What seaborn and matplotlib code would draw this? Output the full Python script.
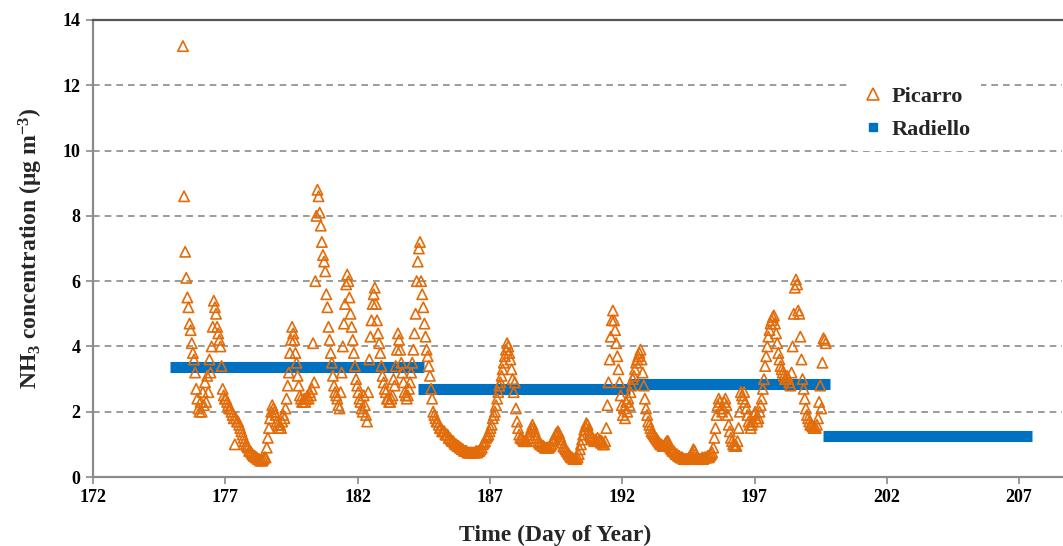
import numpy as np
import pandas as pd
import matplotlib
matplotlib.use("Agg")
import matplotlib.pyplot as plt
import seaborn as sns
from matplotlib.lines import Line2D

# ---------------- data ----------------
# Picarro hourly NH3 (ug m-3), starting at day 175.40, one value per hour
picarro_start_day = 175.40
picarro_values = [
    13.2, 8.6, 6.9, 6.1, 5.5, 5.2, 4.7, 4.5, 4.1, 3.8, 3.6, 3.2, 2.7, 2.4, 2.1, 2.0, 2.3, 2.0, 2.6, 2.2, 2.9, 2.3, 3.1, 2.6,
    3.6, 3.2, 4.0, 4.6, 5.4, 5.2, 5.0, 4.6, 4.4, 4.2, 4.0, 3.4, 2.7, 2.5, 2.4, 2.4, 2.3, 2.2, 2.1, 2.1, 2.0, 1.9, 1.8, 1.0,
    1.8, 1.7, 1.7, 1.6, 1.5, 1.4, 1.3, 1.2, 1.1, 1.0, 0.95, 0.9, 0.8, 0.8, 0.75, 0.7, 0.65, 0.65, 0.6, 0.6, 0.55, 0.55, 0.5, 0.55,
    0.5, 0.55, 0.6, 0.6, 0.9, 1.2, 1.5, 1.8, 2.0, 2.2, 2.1, 2.0, 1.9, 1.7, 1.6, 1.5, 1.6, 1.5, 1.7, 1.9, 1.8, 2.1, 2.4, 2.8,
    3.2, 3.8, 4.2, 4.6, 4.4, 4.2, 3.8, 3.5, 3.1, 2.8, 2.5, 2.4, 2.3, 2.3, 2.4, 2.3, 2.4, 2.5, 2.4, 2.6, 2.5, 2.7, 4.1, 2.9,
    6.0, 8.0, 8.8, 8.6, 8.1, 7.7, 7.2, 6.8, 6.6, 6.3, 5.6, 5.2, 4.6, 4.2, 3.8, 3.5, 3.1, 2.8, 2.6, 2.5, 2.4, 2.2, 2.1, 2.6,
    3.2, 4.0, 4.7, 5.3, 5.9, 6.2, 6.0, 5.5, 5.0, 4.6, 4.2, 3.8, 3.4, 3.0, 2.8, 2.6, 2.4, 2.3, 2.1, 2.0, 2.5, 2.2, 1.9, 1.7,
    2.6, 3.6, 4.3, 4.8, 5.3, 5.6, 5.8, 5.3, 4.8, 4.4, 4.1, 3.8, 3.4, 3.1, 2.9, 2.7, 2.6, 2.4, 2.4, 2.3, 2.3, 2.4, 2.5, 3.0,
    2.8, 3.4, 3.9, 4.4, 4.2, 3.9, 3.5, 3.2, 2.9, 2.6, 2.5, 2.4, 2.5, 2.7, 2.9, 3.2, 3.5, 3.9, 4.4, 5.0, 6.0, 6.6, 7.0, 7.2,
    6.0, 5.6, 5.2, 4.7, 4.3, 3.9, 3.7, 3.4, 3.1, 2.7, 2.4, 2.0, 1.9, 1.8, 1.7, 1.7, 1.6, 1.5, 1.5, 1.4, 1.4, 1.4, 1.3, 1.3,
    1.3, 1.2, 1.2, 1.15, 1.1, 1.1, 1.05, 1.0, 1.0, 0.95, 0.95, 0.9, 0.9, 0.85, 0.85, 0.8, 0.8, 0.8, 0.75, 0.75, 0.75, 0.75, 0.75, 0.75,
    0.75, 0.75, 0.8, 0.75, 0.8, 0.8, 0.85, 0.9, 1.0, 1.05, 1.1, 1.2, 1.25, 1.3, 1.4, 1.5, 1.6, 1.8, 1.9, 2.0, 2.2, 2.4, 2.6, 2.8,
    2.9, 3.1, 3.3, 3.5, 3.7, 3.9, 4.1, 4.0, 3.8, 3.6, 3.3, 3.0, 2.6, 2.9, 2.1, 1.7, 1.5, 1.3, 1.2, 1.2, 1.15, 1.1, 1.1, 1.1,
    1.1, 1.2, 1.3, 1.4, 1.5, 1.6, 1.5, 1.4, 1.3, 1.2, 1.1, 1.05, 1.0, 1.0, 0.95, 0.95, 0.9, 0.9, 0.9, 0.9, 0.9, 0.95, 1.0, 1.1,
    1.15, 1.2, 1.3, 1.35, 1.4, 1.35, 1.25, 1.15, 1.05, 0.95, 0.9, 0.85, 0.8, 0.75, 0.7, 0.65, 0.6, 0.6, 0.55, 0.55, 0.55, 0.55, 0.6, 0.7,
    0.85, 1.0, 1.15, 1.3, 1.45, 1.55, 1.65, 1.6, 1.45, 1.35, 1.25, 1.2, 1.15, 1.1, 1.15, 1.1, 1.2, 1.1, 1.15, 1.05, 1.1, 1.0, 1.0, 1.1,
    1.5, 2.2, 2.9, 3.6, 4.3, 4.8, 5.1, 4.8, 4.5, 4.1, 3.7, 3.3, 2.9, 2.5, 2.2, 1.9, 2.1, 1.8, 2.3, 2.0, 2.4, 2.2, 2.6, 2.8,
    3.0, 3.1, 3.3, 3.5, 3.6, 3.7, 3.8, 3.9, 3.6, 3.2, 2.8, 2.4, 2.1, 1.9, 1.7, 1.6, 1.5, 1.4, 1.35, 1.3, 1.25, 1.2, 1.15, 1.1,
    1.05, 1.0, 1.0, 0.95, 0.95, 1.0, 1.05, 1.1, 1.1, 1.0, 0.9, 0.85, 0.8, 0.8, 0.75, 0.7, 0.7, 0.65, 0.65, 0.6, 0.6, 0.6, 0.55, 0.55,
    0.55, 0.55, 0.55, 0.6, 0.6, 0.65, 0.75, 0.85, 0.8, 0.7, 0.6, 0.55, 0.55, 0.55, 0.55, 0.6, 0.55, 0.6, 0.6, 0.6, 0.65, 0.6, 0.65, 0.7,
    0.75, 0.9, 1.2, 1.5, 1.9, 2.2, 2.4, 2.3, 2.1, 2.0, 2.1, 2.3, 2.4, 2.2, 1.9, 1.6, 1.4, 1.2, 1.1, 1.0, 0.95, 0.95, 0.95, 1.1,
    1.5, 2.0, 2.6, 2.5, 2.4, 2.6, 2.3, 2.1, 1.9, 1.7, 1.6, 1.5, 1.6, 1.7, 1.9, 2.0, 1.8, 1.7, 1.8, 2.0, 2.2, 2.4, 2.7, 3.0,
    3.4, 3.7, 4.0, 4.3, 4.5, 4.7, 4.8, 4.9, 4.95, 4.7, 4.4, 4.1, 3.8, 3.6, 3.4, 3.3, 3.2, 3.1, 3.0, 3.0, 3.1, 3.0, 2.9, 2.8,
    3.2, 4.0, 5.0, 5.8, 6.05, 5.9, 5.1, 5.0, 4.3, 3.6, 3.0, 2.7, 2.4, 2.1, 1.9, 1.8, 1.7, 1.6, 1.6, 1.55, 1.5, 1.55, 1.5, 1.6,
    1.8, 2.3, 2.8, 2.1, 3.5, 4.25, 4.2, 4.1,
]

# Radiello passive samplers: exposure periods (day of year) and mean concentration
radiello_start = [174.9, 184.3, 192.25, 199.6]
radiello_end = [184.5, 192.3, 199.85, 207.5]
radiello_conc = [3.37, 2.70, 2.85, 1.26]

x_ticks = [172, 177, 182, 187, 192, 197, 202, 207]
y_ticks = [0, 2, 4, 6, 8, 10, 12, 14]

ORANGE = "#E36C0A"
BLUE = "#0070C0"

# ---------------- figure ----------------
sns.set_theme(style="white")
plt.rcParams["font.family"] = ["Liberation Serif", "DejaVu Serif"]
plt.rcParams["font.weight"] = "bold"
plt.rcParams["mathtext.fontset"] = "custom"
plt.rcParams["mathtext.rm"] = "Liberation Serif:bold"
plt.rcParams["mathtext.it"] = "Liberation Serif:bold"
plt.rcParams["mathtext.bf"] = "Liberation Serif:bold"

W, H = 1063, 546
fig = plt.figure(figsize=(W / 100, H / 100), dpi=100)
ax_left, ax_right, ax_top, ax_bottom = 93, 1062, 20, 477
ax = fig.add_axes([ax_left / W, (H - ax_bottom) / H, (ax_right - ax_left) / W, (ax_bottom - ax_top) / H])

n = len(picarro_values)
pic = pd.DataFrame({
    "day": picarro_start_day + np.arange(n) / 24.0,
    "conc": picarro_values,
})

# grid lines
for yv in y_ticks[1:-1]:
    ax.axhline(yv, color="#8a8a8a", lw=1.2, ls=(0, (4, 3)), zorder=0)

# Radiello bars
for s, e, v in zip(radiello_start, radiello_end, radiello_conc):
    seg = pd.DataFrame({"day": [s, e], "conc": [v, v]})
    sns.lineplot(data=seg, x="day", y="conc", ax=ax, color=BLUE, lw=8,
                 solid_capstyle="butt", zorder=2, legend=False)

# Picarro points
sns.scatterplot(data=pic, x="day", y="conc", ax=ax, marker="^", s=55,
                facecolors="none", edgecolor=ORANGE, linewidth=1.2, zorder=3, legend=False)

ax.set_xlim(172, 172 + (ax_right - ax_left) / 26.46)
ax.set_ylim(0, 14)
ax.set_xticks(x_ticks)
ax.set_yticks(y_ticks)
ax.set_xticklabels([str(t) for t in x_ticks], fontsize=13, fontweight="bold")
ax.set_yticklabels([str(t) for t in y_ticks], fontsize=13, fontweight="bold")
ax.tick_params(axis="both", direction="out", length=5, width=1.2, color="#8a8a8a",
               labelcolor="black", pad=4, bottom=True, left=True)

for side in ["left", "bottom", "top"]:
    ax.spines[side].set_color("#8a8a8a")
    ax.spines[side].set_linewidth(1.6)
ax.spines["top"].set_color("#555555")
ax.spines["right"].set_visible(False)

ax.set_xlabel("Time (Day of Year)", fontsize=17, fontweight="bold")
ax.set_ylabel("NH$_3$ concentration (μg m$^{-3}$)", fontsize=17, fontweight="bold")
ax.xaxis.set_label_coords((555 - ax_left) / (ax_right - ax_left), -0.105)
ax.yaxis.set_label_coords(-0.05, 0.5)

handles = [
    Line2D([], [], ls="none", marker="^", markersize=8, markerfacecolor="none",
           markeredgecolor=ORANGE, markeredgewidth=1.2),
    Line2D([], [], ls="none", marker="s", markersize=5.5, markerfacecolor=BLUE,
           markeredgecolor=BLUE),
]
leg = ax.legend(handles, ["Picarro", "Radiello"], loc="upper left",
                bbox_to_anchor=((840 - ax_left) / (ax_right - ax_left), (ax_bottom - 64) / (ax_bottom - ax_top)),
                frameon=True, facecolor="white", edgecolor="none", framealpha=1,
                prop={"family": "Liberation Serif", "weight": "bold", "size": 16},
                handletextpad=0.3, handlelength=1.0, labelspacing=0.55, borderpad=0.5)
leg.set_zorder(5)

fig.savefig("out.png", dpi=100)
